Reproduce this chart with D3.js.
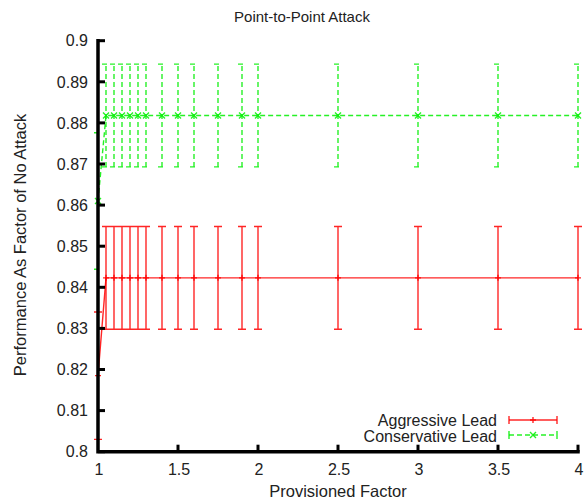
<!DOCTYPE html>
<html>
<head>
<meta charset="utf-8">
<script src="https://cdn.jsdelivr.net/npm/d3@7"></script>
<style>
  body { margin: 0; background: #fff; }
  text { font-family: "Liberation Sans", Arial, sans-serif; fill: #222; }
</style>
</head>
<body>
<div id="chart"></div>
<script>
// Point-to-point attack, gnuplot style error bars
const factors = [1, 1.05, 1.1, 1.15, 1.2, 1.25, 1.3, 1.4, 1.5, 1.6, 1.75, 1.9, 2, 2.5, 3, 3.5, 4];
const aggressive = [0.8185, 0.8423, 0.8423, 0.8423, 0.8423, 0.8423, 0.8423, 0.8423, 0.8423, 0.8423, 0.8423, 0.8423, 0.8423, 0.8423, 0.8423, 0.8423, 0.8423];
const aggressiveErr = [0.0155, 0.0125, 0.0125, 0.0125, 0.0125, 0.0125, 0.0125, 0.0125, 0.0125, 0.0125, 0.0125, 0.0125, 0.0125, 0.0125, 0.0125, 0.0125, 0.0125];
const conservative = [0.861, 0.8818, 0.8818, 0.8818, 0.8818, 0.8818, 0.8818, 0.8818, 0.8818, 0.8818, 0.8818, 0.8818, 0.8818, 0.8818, 0.8818, 0.8818, 0.8818];
const conservativeErr = [0.0166, 0.0125, 0.0125, 0.0125, 0.0125, 0.0125, 0.0125, 0.0125, 0.0125, 0.0125, 0.0125, 0.0125, 0.0125, 0.0125, 0.0125, 0.0125, 0.0125];
const xTicks = [1, 1.5, 2, 2.5, 3, 3.5, 4];
const yTicks = [0.8, 0.81, 0.82, 0.83, 0.84, 0.85, 0.86, 0.87, 0.88, 0.89, 0.9];

const width = 584, height = 501;
const x = d3.scaleLinear().domain([1, 4]).range([98, 578]);
const y = d3.scaleLinear().domain([0.8, 0.9]).range([451.7, 40.7]);

const svg = d3.select('#chart').append('svg')
  .attr('width', width)
  .attr('height', height);

const series = [
  { name: 'Aggressive Lead', values: aggressive, err: aggressiveErr, color: '#ff0000', dash: null, marker: 'plus', textY: 426 },
  { name: 'Conservative Lead', values: conservative, err: conservativeErr, color: '#00ee00', dash: '5,3', marker: 'cross', textY: 442 }
];

const cap = 4;

function markerPath(kind, cx, cy, s) {
  if (kind === 'plus') return `M${cx - s},${cy}H${cx + s}M${cx},${cy - s}V${cy + s}`;
  return `M${cx - s},${cy - s}L${cx + s},${cy + s}M${cx - s},${cy + s}L${cx + s},${cy - s}`;
}

series.forEach(s => {
  const g = svg.append('g')
    .attr('stroke', s.color)
    .attr('stroke-width', 1.4)
    .attr('fill', 'none')
    .attr('stroke-opacity', 0.85);

  const pts = factors.map((f, i) => ({ f, v: s.values[i], e: s.err[i] }));

  // error bars
  g.selectAll('path.bar')
    .data(pts)
    .enter()
    .append('path')
    .attr('class', 'bar')
    .attr('stroke-dasharray', s.dash)
    .attr('d', d => {
      const px = x(d.f), top = y(d.v + d.e), bot = y(d.v - d.e);
      return `M${px},${bot}V${top}M${px - cap},${top}H${px + cap}M${px - cap},${bot}H${px + cap}`;
    });

  // connecting line
  const line = d3.line().x(d => x(d.f)).y(d => y(d.v));
  g.append('path')
    .datum(pts)
    .attr('stroke-dasharray', s.dash)
    .attr('d', line);

  // point markers
  g.selectAll('path.mark')
    .data(pts)
    .enter()
    .append('path')
    .attr('class', 'mark')
    .attr('d', d => markerPath(s.marker, x(d.f), y(d.v), 3));
});

// axes: only left and bottom, thick, ticks pointing inward
const axis = svg.append('g').attr('stroke', '#000').attr('fill', 'none');
axis.append('path')
  .attr('stroke-width', 3.5)
  .attr('stroke-linecap', 'square')
  .attr('d', `M${x(1)},${y(0.9)}V${y(0.8)}H${x(4)}`);

axis.selectAll('line.yt')
  .data(yTicks)
  .enter()
  .append('line')
  .attr('stroke-width', 3)
  .attr('x1', x(1))
  .attr('x2', x(1) + 7)
  .attr('y1', d => y(d))
  .attr('y2', d => y(d));

axis.selectAll('line.xt')
  .data(xTicks.slice(1))
  .enter()
  .append('line')
  .attr('stroke-width', 3)
  .attr('x1', d => x(d))
  .attr('x2', d => x(d))
  .attr('y1', y(0.8))
  .attr('y2', y(0.8) - 7);

svg.selectAll('text.yl')
  .data(yTicks)
  .enter()
  .append('text')
  .attr('x', 88)
  .attr('y', d => y(d))
  .attr('dy', '0.36em')
  .attr('text-anchor', 'end')
  .style('font-size', '16px')
  .text(d => d3.format('')(+d.toFixed(2)));

svg.selectAll('text.xl')
  .data(xTicks)
  .enter()
  .append('text')
  .attr('x', d => x(d) + 1)
  .attr('y', 475)
  .attr('text-anchor', 'middle')
  .style('font-size', '16px')
  .text(d => d);

svg.append('text')
  .attr('x', 302)
  .attr('y', 22)
  .attr('text-anchor', 'middle')
  .style('font-size', '15px')
  .text('Point-to-Point Attack');

svg.append('text')
  .attr('x', 338)
  .attr('y', 497)
  .attr('text-anchor', 'middle')
  .style('font-size', '16.5px')
  .text('Provisioned Factor');

svg.append('text')
  .attr('transform', 'translate(26,245) rotate(-90)')
  .attr('text-anchor', 'middle')
  .style('font-size', '16.5px')
  .text('Performance As Factor of No Attack');

// legend
const legendY = [420, 435];
series.forEach((s, i) => {
  const ly = legendY[i];
  svg.append('text')
    .attr('x', 497)
    .attr('y', s.textY)
    .attr('text-anchor', 'end')
    .style('font-size', '16px')
    .text(s.name);
  const g = svg.append('g')
    .attr('stroke', s.color)
    .attr('stroke-width', 1.4)
    .attr('stroke-opacity', 0.85)
    .attr('fill', 'none');
  g.append('path')
    .attr('stroke-dasharray', s.dash)
    .attr('d', `M509,${ly}H557`);
  g.append('path')
    .attr('d', `M509,${ly - cap}V${ly + cap}M557,${ly - cap}V${ly + cap}`);
  g.append('path')
    .attr('d', markerPath(s.marker, 533, ly, 3));
});
</script>
</body>
</html>
